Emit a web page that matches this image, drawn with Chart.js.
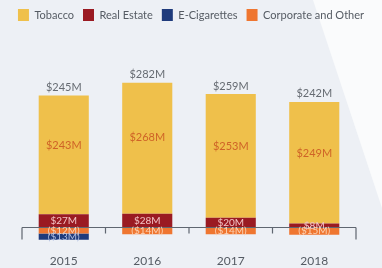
<!DOCTYPE html>
<html>
<head>
<meta charset="utf-8">
<script src="https://cdn.jsdelivr.net/npm/chart.js@4.4.1/dist/chart.umd.min.js"></script>
<style>
  html, body { margin: 0; padding: 0; background: #edf0f5; }
  #wrap { width: 382px; height: 268px; position: relative; }
</style>
</head>
<body>
<div id="wrap"><canvas id="chart"></canvas></div>
<script>
const years = ['2015', '2016', '2017', '2018'];
const tobacco = [243, 268, 253, 249];
const realEstate = [27, 28, 20, 8];
const corporate = [-12, -14, -14, -15];
const eCigs = [-13, 0, 0, 0];

const legendOrder = ['Tobacco', 'Real Estate', 'E-Cigarettes', 'Corporate and Other'];

function money(v) {
  return v < 0 ? '($' + Math.abs(v) + 'M)' : '$' + v + 'M';
}

const backdrop = {
  id: 'backdrop',
  beforeDraw(chart) {
    const ctx = chart.ctx;
    ctx.save();
    ctx.fillStyle = '#edf0f5';
    ctx.fillRect(0, 0, chart.width, chart.height);
    ctx.fillStyle = '#fafbfc';
    ctx.beginPath();
    ctx.moveTo(313, 0);
    ctx.lineTo(chart.width, 0);
    ctx.lineTo(chart.width, 208);
    ctx.closePath();
    ctx.fill();
    ctx.restore();
  }
};

const bracket = {
  id: 'bracket',
  afterDatasetsDraw(chart) {
    const ctx = chart.ctx;
    const x = chart.scales.x;
    const y0 = chart.scales.y.getPixelForValue(0);
    const step = x.getPixelForValue(1) - x.getPixelForValue(0);
    const left = x.getPixelForValue(0) - step / 2;
    const right = x.getPixelForValue(years.length - 1) + step / 2;
    ctx.save();
    ctx.strokeStyle = '#5f6670';
    ctx.lineWidth = 1.2;
    ctx.beginPath();
    ctx.moveTo(left, y0);
    ctx.lineTo(right, y0);
    for (let i = 0; i <= years.length; i++) {
      const px = left + i * step;
      const len = (i === 0 || i === years.length) ? 12 : 6;
      ctx.moveTo(px, y0);
      ctx.lineTo(px, y0 + len);
    }
    ctx.stroke();
    ctx.restore();
  }
};

const segLabels = {
  id: 'segLabels',
  afterDraw(chart) {
    const ctx = chart.ctx;
    ctx.save();
    ctx.textAlign = 'center';
    ctx.textBaseline = 'middle';
    chart.data.datasets.forEach((ds, di) => {
      const meta = chart.getDatasetMeta(di);
      meta.data.forEach((bar, i) => {
        const v = ds.data[i];
        if (!v) return;
        ctx.fillStyle = ds.textColor;
        let cy = (bar.y + bar.base) / 2;
        if (ds.label === 'Tobacco') {
          ctx.font = '11px Lato';
          cy = bar.y + (bar.base - bar.y) * 0.42;
        } else {
          ctx.font = '10px Lato';
        }
        ctx.fillText(money(v), bar.x, cy);
      });
    });
    // totals above each bar
    ctx.font = '11px Lato';
    ctx.fillStyle = '#666b72';
    const topMeta = chart.getDatasetMeta(1);
    years.forEach((yr, i) => {
      const total = tobacco[i] + realEstate[i] + corporate[i] + eCigs[i];
      ctx.fillText(money(total), topMeta.data[i].x, topMeta.data[i].y - 8);
    });
    ctx.restore();
  }
};

const hiddenAxis = (pos, w) => ({
  position: pos,
  display: true,
  ticks: { display: false },
  grid: { display: false },
  border: { display: false },
  afterFit(scale) { scale.width = w; }
});

new Chart(document.getElementById('chart'), {
  type: 'bar',
  data: {
    labels: years,
    datasets: [
      { label: 'Real Estate', data: realEstate, backgroundColor: '#9a1a22', textColor: '#f3c3c5' },
      { label: 'Tobacco', data: tobacco, backgroundColor: '#efc04b', textColor: '#cf6327' },
      { label: 'Corporate and Other', data: corporate, backgroundColor: '#ef7630', textColor: '#fcd2b4' },
      { label: 'E-Cigarettes', data: eCigs, backgroundColor: '#1f3b7c', textColor: '#aebde0' }
    ]
  },
  options: {
    responsive: true,
    maintainAspectRatio: false,
    animation: false,
    datasets: {
      bar: { categoryPercentage: 0.6, barPercentage: 1.0, borderWidth: 0 }
    },
    layout: {
      padding: 0
    },
    plugins: {
      legend: {
        position: 'top',
        labels: {
          boxWidth: 11,
          boxHeight: 12,
          padding: 9,
          color: '#555b63',
          font: { family: 'Lato', size: 11 },
          sort: (a, b) => legendOrder.indexOf(a.text) - legendOrder.indexOf(b.text)
        }
      },
      tooltip: { enabled: false }
    },
    scales: {
      x: {
        stacked: true,
        grid: { display: false },
        border: { display: false },
        ticks: { color: '#555b63', font: { family: 'Lato', size: 12 }, padding: 0 }
      },
      y: Object.assign(hiddenAxis('left', 22), { stacked: true, min: -37, max: 402 }),
      yR: hiddenAxis('right', 26)
    }
  },
  plugins: [backdrop, bracket, segLabels]
});
</script>
</body>
</html>
